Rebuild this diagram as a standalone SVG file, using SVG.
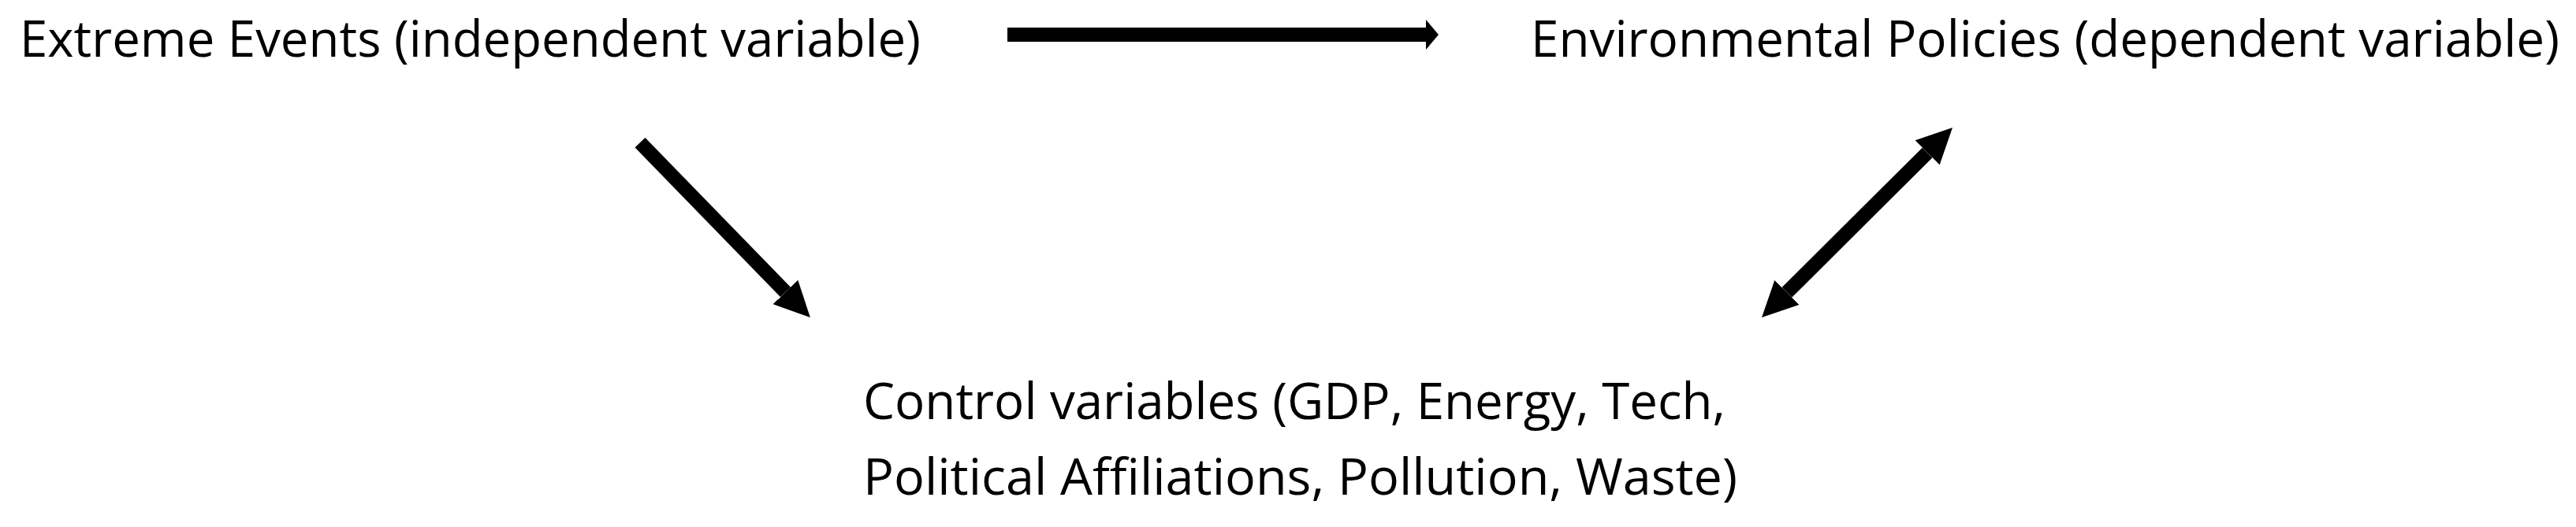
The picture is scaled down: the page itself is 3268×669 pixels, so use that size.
<svg xmlns="http://www.w3.org/2000/svg" width="3268" height="669" viewBox="0 0 3268 669">
<style>
.lbl{font-family:"Open Sans","Liberation Sans",sans-serif;font-size:64px;fill:#000}
.conn{stroke:#000;stroke-width:18;fill:none;stroke-linecap:butt}
</style>
<defs>
<marker id="head" markerUnits="userSpaceOnUse" viewBox="0 0 45 44" markerWidth="45" markerHeight="44" refX="0" refY="22" orient="auto-start-reverse">
<path d="M0,0 L45,22 L0,44 Z" fill="#000"/>
</marker>
<marker id="headSmall" markerUnits="userSpaceOnUse" viewBox="0 0 16 38" markerWidth="16" markerHeight="38" refX="0" refY="19" orient="auto">
<path d="M0,0 L16,19 L0,38 Z" fill="#000"/>
</marker>
</defs>
<rect width="3268" height="669" fill="#fff"/>
<g id="extreme-events">
<text class="lbl" x="25" y="72" textLength="1143" lengthAdjust="spacingAndGlyphs">Extreme Events (independent variable)</text>
</g>
<g id="environmental-policies">
<text class="lbl" x="1942" y="72" textLength="1305" lengthAdjust="spacingAndGlyphs">Environmental Policies (dependent variable)</text>
</g>
<g id="control-variables">
<text class="lbl" x="1095" y="532" textLength="1094" lengthAdjust="spacingAndGlyphs">Control variables (GDP, Energy, Tech,</text>
<text class="lbl" x="1095" y="628" textLength="1109" lengthAdjust="spacingAndGlyphs">Political Affiliations, Pollution, Waste)</text>
</g>
<g id="connectors">
<line class="conn" x1="1278" y1="44" x2="1809" y2="44" marker-end="url(#headSmall)"/>
<line class="conn" x1="812" y1="181" x2="996.5" y2="370.8" marker-end="url(#head)"/>
<line class="conn" x1="2266.9" y1="371.2" x2="2445.1" y2="193.8" marker-start="url(#head)" marker-end="url(#head)"/>
</g>
</svg>
